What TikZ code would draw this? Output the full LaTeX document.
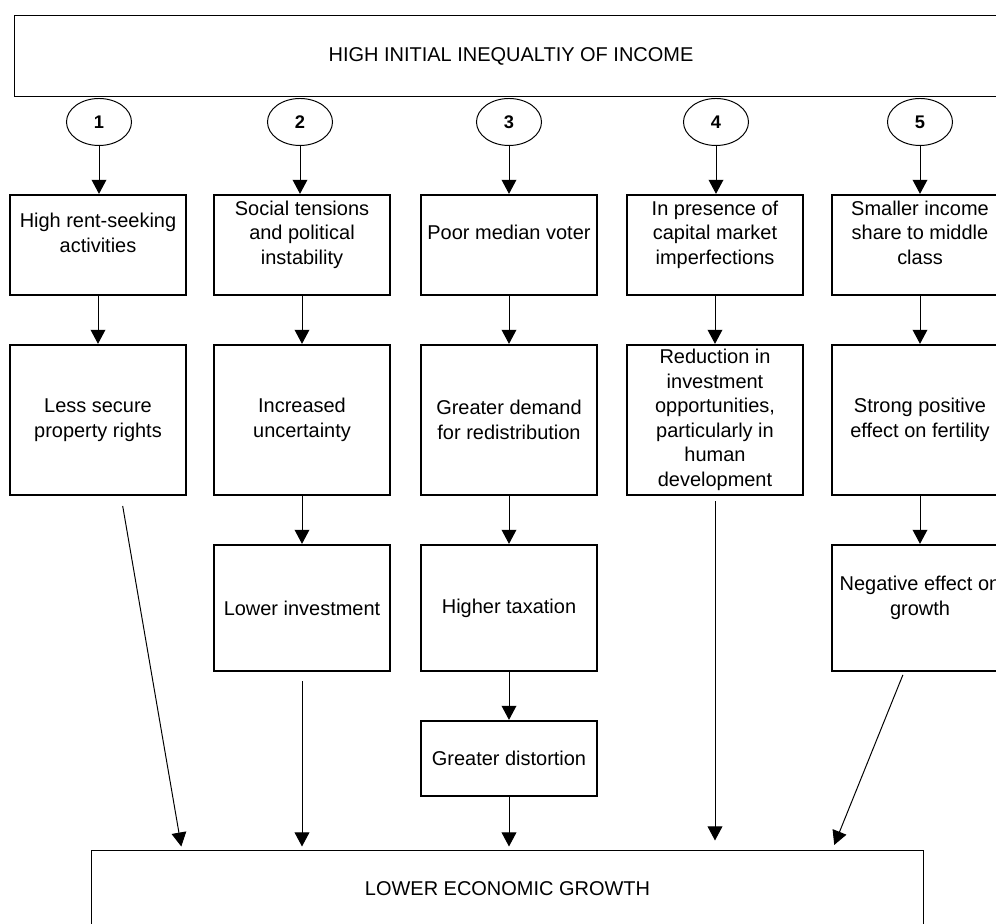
\documentclass[tikz,border=0pt]{standalone}
\usepackage{fontspec}
\setmainfont{Liberation Sans}
\usetikzlibrary{arrows.meta, calc, shapes.geometric}

\tikzset{
    headbox/.style={draw, line width=0.7pt, inner sep=0pt},
    numoval/.style={draw, ellipse, line width=0.7pt, inner sep=0pt,
        minimum width=1.625cm, minimum height=1.175cm,
        font=\fontsize{13}{15}\selectfont\bfseries},
    chainbox/.style={draw, line width=1.6pt, inner sep=1pt, align=center,
        minimum width=4.4cm},
    flow/.style={line width=0.7pt, -{Triangle[length=10pt,width=10.5pt]}},
}

\begin{document}
\begin{tikzpicture}[x=0.025cm, y=-0.025cm, font=\fontsize{14.2}{17.4}\selectfont]
        \useasboundingbox (0,0) rectangle (996,924);
        \clip (0,0) rectangle (996,924);

        % top and bottom
        \node[headbox, minimum width=24.8cm, minimum height=2cm] (high) at (511,56)
            {HIGH INITIAL INEQUALTIY OF INCOME};
        \node[headbox, minimum width=20.775cm, minimum height=1.875cm] (low) at (507.5,888.5)
            {LOWER ECONOMIC GROWTH};

        \node[numoval] (o1) at (99,122) {1};
        \node[numoval] (o2) at (300,122) {2};
        \node[numoval] (o3) at (509,122) {3};
        \node[numoval] (o4) at (716,122) {4};
        \node[numoval] (o5) at (920,122) {5};

        % first row
        \node[chainbox, minimum height=2.5cm] (r1a) at (98,245) {High rent-seeking\\activities\\\mbox{}};
        \node[chainbox, minimum height=2.5cm] (r1b) at (302,245) {Social tensions\\and political\\instability\\\mbox{}};
        \node[chainbox, minimum height=2.5cm] (r1c) at (509,245) {Poor median voter\\\mbox{}};
        \node[chainbox, minimum height=2.5cm] (r1d) at (715,245) {In presence of\\capital market\\imperfections\\\mbox{}};
        \node[chainbox, minimum height=2.5cm] (r1e) at (920,245) {Smaller income\\share to middle\\class\\\mbox{}};

        % second row
        \node[chainbox, minimum height=3.75cm] (r2a) at (98,420) {Less secure\\property rights};
        \node[chainbox, minimum height=3.75cm] (r2b) at (302,420) {Increased\\uncertainty};
        \node[chainbox, minimum height=3.75cm] (r2c) at (509,420) {Greater demand\\for redistribution};
        \node[chainbox, minimum height=3.75cm] (r2d) at (715,420) {Reduction in\\investment\\opportunities,\\particularly in\\human\\development};
        \node[chainbox, minimum height=3.75cm] (r2e) at (920,420) {Strong positive\\effect on fertility};

        % third and fourth row
        \node[chainbox, minimum height=3.15cm] (r3b) at (302,608) {Lower investment};
        \node[chainbox, minimum height=3.15cm] (r3c) at (509,608) {Higher taxation};
        \node[chainbox, minimum height=3.15cm] (r3e) at (920,608) {Negative effect on\\growth\\\mbox{}};
        \node[chainbox, minimum height=1.875cm] (r4c) at (509,758.5) {Greater distortion};

        \draw[flow] (o1) -- (o1 |- r1a.north);
        \draw[flow] (o2) -- (o2 |- r1b.north);
        \draw[flow] (o3) -- (o3 |- r1c.north);
        \draw[flow] (o4) -- (o4 |- r1d.north);
        \draw[flow] (o5) -- (o5 |- r1e.north);

        \draw[flow] (r1a) -- (r2a);
        \draw[flow] (r1b) -- (r2b);
        \draw[flow] (r1c) -- (r2c);
        \draw[flow] (r1d) -- (r2d);
        \draw[flow] (r1e) -- (r2e);

        \draw[flow] (r2b) -- (r3b);
        \draw[flow] (r2c) -- (r3c);
        \draw[flow] (r2e) -- (r3e);
        \draw[flow] (r3c) -- (r4c);

        % into the bottom box
        \draw[flow, shorten <=0.25cm, shorten >=0.1cm] ($(r2a.south)+(23,0)$) -- ($(low.north)+(-325.5,0)$);
        \draw[flow, shorten <=0.225cm, shorten >=0.1cm] (r3b) -- (r3b |- low.north);
        \draw[flow, shorten >=0.1cm] (r4c) -- (r4c |- low.north);
        \draw[flow, shorten <=0.125cm, shorten >=0.25cm] (r2d) -- (r2d |- low.north);
        \draw[flow, shorten <=0.075cm, shorten >=0.15cm] ($(r3e.south)+(-16,0)$) -- ($(low.north)+(324.5,0)$);
    \end{tikzpicture}
\end{document}
